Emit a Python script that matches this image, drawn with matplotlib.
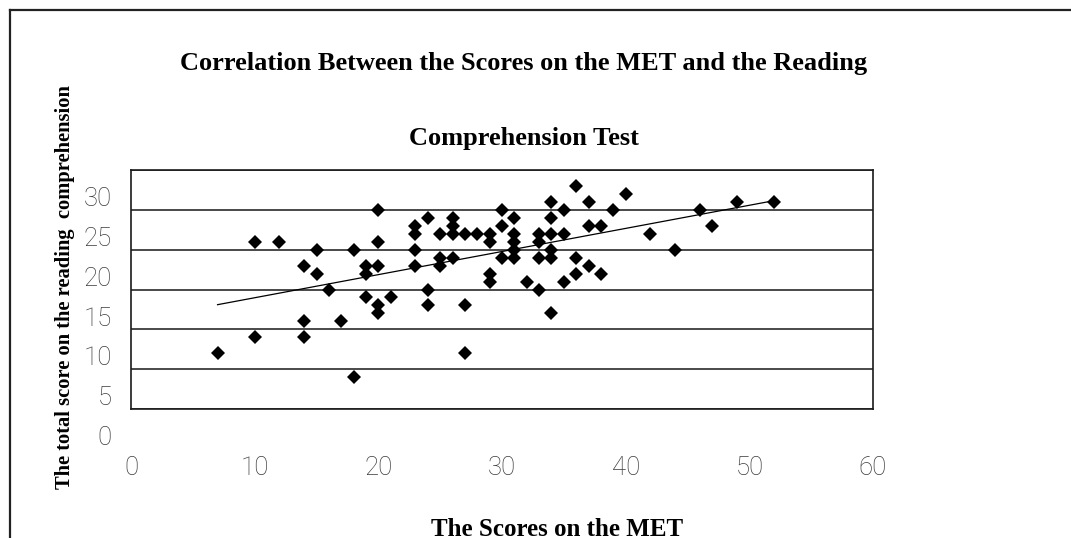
import numpy as np
import matplotlib
matplotlib.use("Agg")
import matplotlib.pyplot as plt
import matplotlib.transforms as mtransforms
from matplotlib.lines import Line2D

# Scores on the MET (x) and total reading comprehension score (y)
met_scores = [7, 10, 10, 12, 14, 14, 14, 15, 15, 16, 17, 18, 18, 19, 19, 19,
              20, 20, 20, 20, 20, 21, 23, 23, 23, 23, 24, 24, 24, 25, 25, 25,
              26, 26, 26, 26, 27, 27, 27, 28, 29, 29, 29, 29, 30, 30, 30,
              31, 31, 31, 31, 31, 32, 33, 33, 33, 33, 34, 34, 34, 34, 34, 34,
              35, 35, 35, 36, 36, 36, 37, 37, 37, 38, 38, 39, 40, 42, 44,
              46, 47, 49, 52]
reading_scores = [7, 21, 9, 21, 18, 11, 9, 20, 17, 15, 11, 20, 4, 18, 17, 14,
                  25, 21, 18, 13, 12, 14, 23, 22, 20, 18, 24, 15, 13, 22, 19, 18,
                  24, 23, 22, 19, 22, 13, 7, 22, 22, 21, 17, 16, 25, 23, 19,
                  24, 22, 21, 20, 19, 16, 22, 21, 19, 15, 26, 24, 22, 20, 19, 12,
                  25, 22, 16, 28, 19, 17, 26, 23, 18, 23, 17, 25, 27, 22, 20,
                  25, 23, 26, 26]

x_ticks = [0, 10, 20, 30, 40, 50, 60]
y_ticks = [0, 5, 10, 15, 20, 25, 30]

title_1 = "Correlation Between the Scores on the MET and the Reading"
title_2 = "Comprehension Test"
x_title = "The Scores on the MET"
y_title = "The total score on the reading  comprehension"

W, H = 1071, 538
fig = plt.figure(figsize=(W / 100, H / 100), dpi=100)
fig.patch.set_facecolor("white")

ax = fig.add_axes([131 / W, 1 - 409 / H, 742 / W, 239 / H])

x = np.array(met_scores, dtype=float)
y = np.array(reading_scores, dtype=float)

# linear trendline across the data range
slope, intercept = np.polyfit(x, y, 1)
xs = np.array([x.min(), x.max()])
ax.plot(xs, slope * xs + intercept, color="black", lw=0.9, zorder=2)

ax.plot(x, y, linestyle="none", marker="D", markersize=7.2,
        color="black", markeredgewidth=0, zorder=3)

ax.set_xlim(0, 60)
ax.set_ylim(0, 30)
ax.set_xticks(x_ticks)
ax.set_yticks(y_ticks)
ax.yaxis.grid(True, color="#2a2a2a", lw=1.2)
ax.set_axisbelow(True)
for s in ax.spines.values():
    s.set_color("#1a1a1a")
    s.set_linewidth(1.2)

tick_font = ["Roboto", "DejaVu Sans"]
ax.tick_params(axis="both", length=0, labelsize=18.5, colors="#3a3a3a")
ax.tick_params(axis="x", pad=34)
ax.tick_params(axis="y", pad=14)
for lab in ax.get_xticklabels() + ax.get_yticklabels():
    lab.set_family(tick_font)
    lab.set_fontweight("light")

# y labels sit lower than their gridlines in the original
shift = mtransforms.ScaledTranslation(0, -0.265, fig.dpi_scale_trans)
for lab in ax.get_yticklabels():
    lab.set_transform(lab.get_transform() + shift)

serif = "Liberation Serif"
fig.text(524 / W, 1 - 64 / H, title_1, ha="center", va="center",
         fontsize=19, fontweight="bold", family=serif)
fig.text(524 / W, 1 - 138 / H, title_2, ha="center", va="center",
         fontsize=19, fontweight="bold", family=serif)
fig.text(557 / W, 1 - 530 / H, x_title, ha="center", va="center",
         fontsize=18, fontweight="bold", family=serif)
fig.text(65 / W, 1 - 287 / H, y_title, ha="center", va="center",
         rotation=90, fontsize=14.8, fontweight="bold", family=serif)

# outer chart frame (top and left edges visible)
fig.add_artist(Line2D([10 / W, 1], [1 - 10 / H, 1 - 10 / H], color="#222222", lw=1.6))
fig.add_artist(Line2D([10 / W, 10 / W], [0, 1 - 10 / H], color="#222222", lw=1.6))

fig.savefig("out.png", dpi=100)
